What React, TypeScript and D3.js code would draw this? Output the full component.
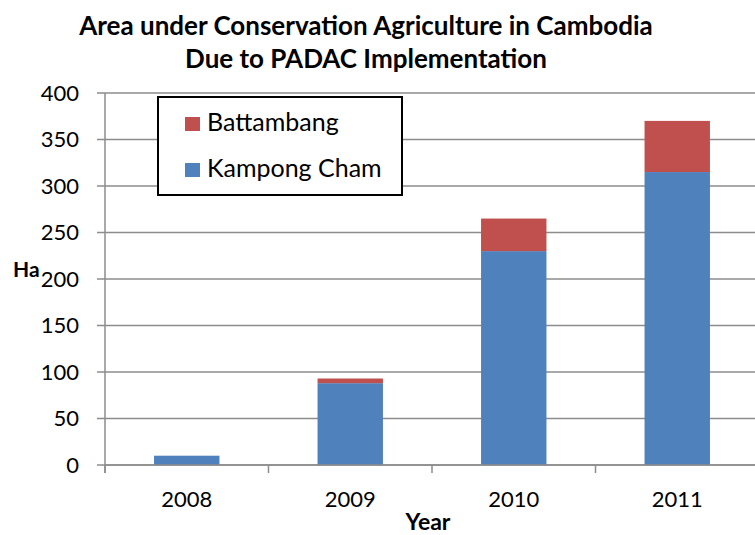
import React from "react";
import * as d3 from "d3";

const years = ["2008", "2009", "2010", "2011"];
const kampongCham = [10, 88, 230, 315];
const battambang = [0, 5, 35, 55];
const yTicks = [0, 50, 100, 150, 200, 250, 300, 350, 400];
const seriesNames = ["Battambang", "Kampong Cham"];

const App: React.FC = () => {
  const width = 755;
  const height = 535;
  const margin = { top: 93, right: -4, bottom: 70, left: 105 };
  const font = "Lato, Carlito, Calibri, sans-serif";

  const x = d3.scaleBand<string>()
    .domain(years)
    .range([margin.left, width - margin.right])
    .paddingInner(0.6)
    .paddingOuter(0.3);

  const y = d3.scaleLinear()
    .domain([0, 400])
    .range([height - margin.bottom, margin.top]);

  const color = d3.scaleOrdinal<string>()
    .domain(seriesNames)
    .range(["#C0504D", "#4F81BD"]);

  // pasos de categoría para las marcas del eje X
  const step = x.step();
  const x0 = margin.left;

  return (
    <svg width={width} height={height} style={{ position: "absolute", left: 0, top: 0, fontFamily: font }}>
      {/* Título */}
      <text x={366} y={35} textAnchor="middle" fontWeight="bold" fontSize={26}>
        Area under Conservation Agriculture in Cambodia
      </text>
      <text x={366} y={68} textAnchor="middle" fontWeight="bold" fontSize={26}>
        Due to PADAC Implementation
      </text>

      {/* Rejilla y eje Y */}
      {yTicks.map((t) => (
        <g key={t}>
          <line x1={x0 - 8} x2={width} y1={y(t)} y2={y(t)} stroke="#8c8c8c" strokeWidth={1.5} />
          <text x={x0 - 26} y={y(t)} dy="0.36em" textAnchor="end" fontSize={22}>{t}</text>
        </g>
      ))}
      <line x1={x0} x2={x0} y1={y(400)} y2={y(0) + 8} stroke="#8c8c8c" strokeWidth={1.5} />

      {/* Barras apiladas */}
      {years.map((yr, i) => {
        const kc = kampongCham[i];
        const bt = battambang[i];
        return (
          <g key={yr}>
            <rect x={x(yr)} y={y(kc)} width={x.bandwidth()} height={y(0) - y(kc)} fill={color("Kampong Cham")} />
            {bt > 0 && (
              <rect x={x(yr)} y={y(kc + bt)} width={x.bandwidth()} height={y(kc) - y(kc + bt)} fill={color("Battambang")} />
            )}
          </g>
        );
      })}

      {/* Eje X */}
      <line x1={x0} x2={width} y1={y(0)} y2={y(0)} stroke="#8c8c8c" strokeWidth={1.5} />
      {years.map((yr, i) => (
        <g key={yr}>
          <line x1={x0 + step * i} x2={x0 + step * i} y1={y(0)} y2={y(0) + 8} stroke="#8c8c8c" strokeWidth={1.5} />
          <text x={(x(yr) ?? 0) + x.bandwidth() / 2} y={507} textAnchor="middle" fontSize={22}>{yr}</text>
        </g>
      ))}

      {/* Títulos de ejes */}
      <text x={13} y={277} fontWeight="bold" fontSize={21}>Ha</text>
      <text x={428} y={530} textAnchor="middle" fontWeight="bold" fontSize={23}>Year</text>

      {/* Leyenda */}
      <g transform="translate(158,97)">
        <rect x={0} y={0} width={244} height={98} fill="white" stroke="black" strokeWidth={2} />
        {seriesNames.map((s, i) => (
          <g key={s} transform={`translate(27,${20 + i * 46})`}>
            <rect x={0} y={0} width={15} height={14} fill={color(s)} />
            <text x={22} y={14} fontSize={25}>{s}</text>
          </g>
        ))}
      </g>
    </svg>
  );
};

export default App;
